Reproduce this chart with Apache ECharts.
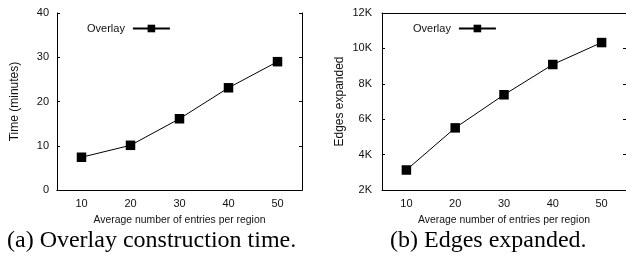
<!DOCTYPE html>
<html>
<head>
<meta charset="utf-8">
<script src="https://cdn.jsdelivr.net/npm/echarts@6/dist/echarts.min.js"></script>
<style>
  html, body { margin: 0; padding: 0; background: #fff; }
  #chart { width: 626px; height: 263px; }
</style>
</head>
<body>
<div id="chart"></div>
<script>
// entries per region (x axis, both panels)
const entries = ['10', '20', '30', '40', '50']
// (a) overlay construction time, minutes
const timeMinutes = [7.4, 10.1, 16.1, 23.1, 29.0]
// (b) edges expanded
const edgesExpanded = [3130, 5510, 7380, 9090, 10330]
const captions = ['(a) Overlay construction time.', '(b) Edges expanded.']

const sans = 'Liberation Sans, Arial, sans-serif'
const serif = 'Liberation Serif, Times New Roman, serif'
const black = '#000'

function xAxes(gridIndex) {
  const base = {
    type: 'category', data: entries, gridIndex, boundaryGap: true,
    axisLine: { lineStyle: { color: black, width: 1 } },
    axisTick: { inside: true, length: 3, alignWithLabel: true, lineStyle: { color: black } },
    splitLine: { show: false },
  }
  return [
    { ...base, position: 'bottom',
      axisLabel: { color: '#111', fontFamily: sans, fontSize: 11, margin: 8 },
      name: 'Average number of entries per region', nameLocation: 'middle', nameGap: 25,
      nameTextStyle: { color: '#111', fontFamily: sans, fontSize: 10.4 } },
    { ...base, position: 'top', axisLabel: { show: false } },
  ]
}

function yAxes(gridIndex, min, max, interval, name, fmt, gap, margin) {
  const base = {
    type: 'value', gridIndex, min, max, interval,
    axisLine: { show: true, lineStyle: { color: black, width: 1 } },
    axisTick: { show: true, inside: true, length: 3, lineStyle: { color: black } },
    splitLine: { show: false },
  }
  return [
    { ...base, position: 'left',
      axisLabel: { color: '#111', fontFamily: sans, fontSize: 11, margin, formatter: fmt },
      name, nameLocation: 'middle', nameGap: gap,
      nameTextStyle: { color: '#111', fontFamily: sans, fontSize: 12 } },
    { ...base, position: 'right', axisLabel: { show: false } },
  ]
}

function lineSeries(i, data) {
  return {
    name: 'Overlay', type: 'line', data,
    xAxisIndex: i * 2, yAxisIndex: i * 2,
    symbol: 'rect', symbolSize: 9.5,
    lineStyle: { color: black, width: 1 },
    itemStyle: { color: black },
    emphasis: { disabled: true },
  }
}

function legendAt(left) {
  return { left, top: 18, align: 'right', itemWidth: 37, itemHeight: 9.5, itemGap: 8,
    data: ['Overlay'], textStyle: { color: '#111', fontFamily: sans, fontSize: 11, padding: [0, 3, 0, 0] } }
}

function caption(text, left) {
  return { text, left, top: 229, padding: 0,
    textStyle: { fontFamily: serif, fontSize: 24, fontWeight: 'normal', color: black } }
}

const chart = echarts.init(document.getElementById('chart'))
chart.setOption({
  animation: false,
  grid: [
    { left: 57, top: 13, width: 245, height: 177 },
    { left: 382, top: 13, width: 246, height: 177 },
  ],
  xAxis: [...xAxes(0), ...xAxes(1)],
  yAxis: [
    ...yAxes(0, 0, 40, 10, 'Time (minutes)', '{value}', 36, 8),
    ...yAxes(1, 2000, 12000, 2000, 'Edges expanded', v => v / 1000 + 'K', 36, 10),
  ],
  legend: [legendAt(82), legendAt(408)],
  series: [lineSeries(0, timeMinutes), lineSeries(1, edgesExpanded)],
  title: [caption(captions[0], 7), caption(captions[1], 390)],
})
</script>
</body>
</html>
